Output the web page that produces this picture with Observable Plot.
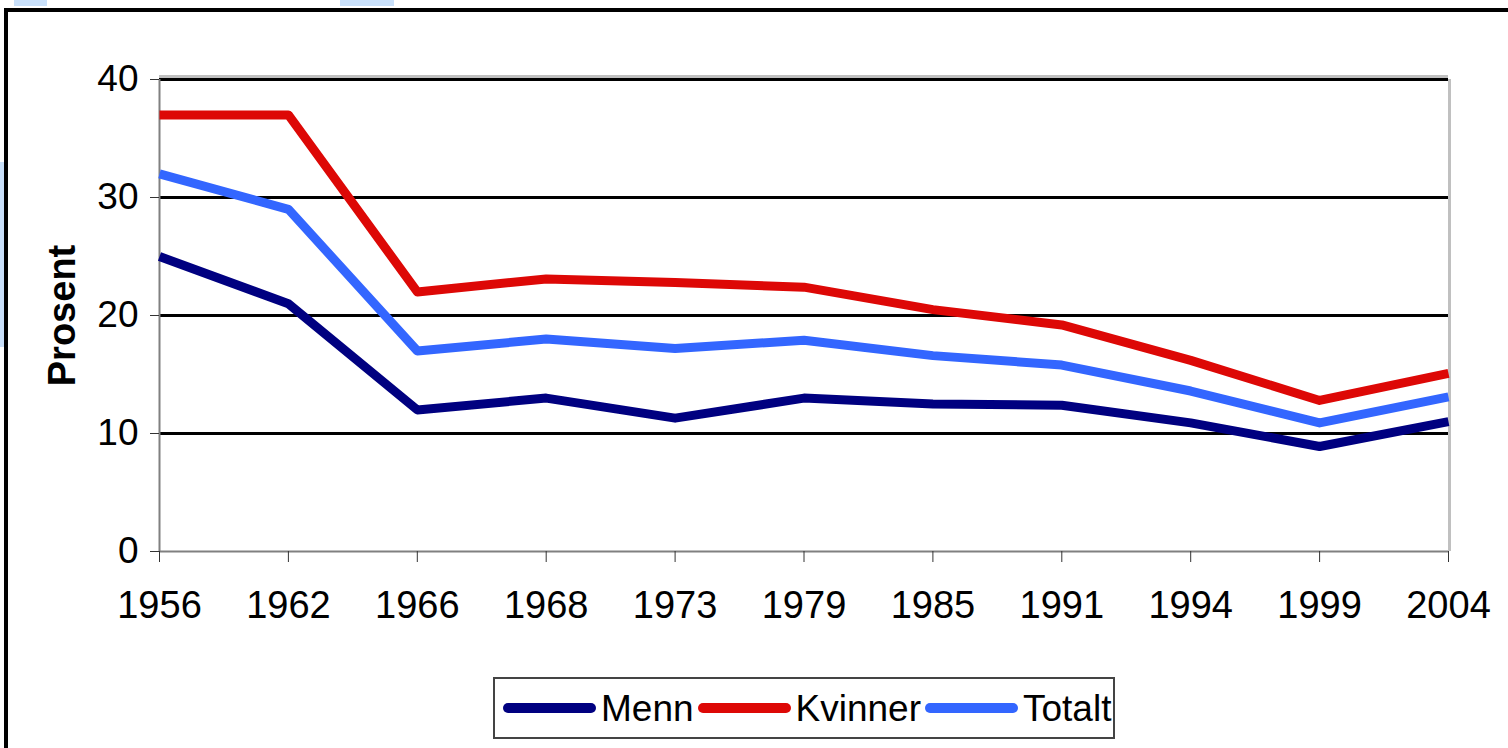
<!DOCTYPE html>
<html>
<head>
<meta charset="utf-8">
<script src="https://cdn.jsdelivr.net/npm/d3@7"></script>
<script src="https://cdn.jsdelivr.net/npm/@observablehq/plot@0.6"></script>
<style>
  html, body { margin: 0; padding: 0; background: #fff; width: 1508px; height: 748px; overflow: hidden; font-family: "Liberation Sans", Arial, sans-serif; }
  .bg { position: absolute; background: #c9e0fa; }
  #frame { position: absolute; left: 4px; top: 8px; width: 1600px; height: 900px; border-left: 4px solid #000; border-top: 4px solid #000; box-sizing: border-box; }
  #chart { position: absolute; left: 0; top: 0; }
  #legend { position: absolute; left: 493px; top: 677px; width: 622px; height: 62px; border: 2px solid #444; box-sizing: border-box; overflow: hidden; display: flex; align-items: center; padding-left: 8px; white-space: nowrap; background: #fff; }
  .sw { display: inline-block; width: 93px; height: 10px; border-radius: 5px; margin-right: 5px; flex: none; }
  .lt { font-size: 37px; color: #000; margin-right: 4px; line-height: 1; flex: none; }
</style>
</head>
<body>
<div class="bg" style="left:14px;top:0;width:33px;height:6px"></div>
<div class="bg" style="left:340px;top:0;width:54px;height:6px"></div>
<div class="bg" style="left:0;top:162px;width:4px;height:185px"></div>
<div id="frame"></div>
<div id="chart"></div>
<div id="legend"></div>
<script>
const years = ["1956","1962","1966","1968","1973","1979","1985","1991","1994","1999","2004"];
const menn    = [25, 21, 12, 13, 11.3, 13, 12.5, 12.4, 10.9, 8.9, 11];
const kvinner = [37, 37, 22, 23.1, 22.8, 22.4, 20.5, 19.2, 16.2, 12.8, 15.1];
const totalt  = [32, 29, 17, 18, 17.2, 17.9, 16.6, 15.8, 13.6, 10.9, 13.1];
const seriesNames = ["Menn", "Kvinner", "Totalt"];
const seriesColors = ["#000080", "#dd0806", "#3366ff"];
const yTicks = [0, 10, 20, 30, 40];
const gridTicks = [10, 20, 30, 40];
const yLabel = "Prosent";

const seriesValues = [menn, kvinner, totalt];
const data = [];
seriesNames.forEach((name, s) => {
  years.forEach((yr, i) => data.push({ year: yr, value: seriesValues[s][i], series: name }));
});

const W = 1508, H = 748;
const plot = Plot.plot({
  width: W,
  height: H,
  marginLeft: 159,
  marginRight: 60,
  marginTop: 79,
  marginBottom: 197,
  style: { fontFamily: "'Liberation Sans', Arial, sans-serif", background: "transparent", color: "#000" },
  x: { type: "point", domain: years, padding: 0, round: false },
  y: { domain: [0, 40] },
  color: { domain: seriesNames, range: seriesColors },
  marks: [
    Plot.ruleY([40], { stroke: "#c0c0c0", strokeWidth: 3, dy: -3 }),
    Plot.ruleX([years[years.length - 1]], { stroke: "#c0c0c0", strokeWidth: 3, dx: 1 }),
    Plot.ruleY(gridTicks, { stroke: "#000", strokeWidth: 3 }),
    Plot.ruleX([years[0]], { stroke: "#808080", strokeWidth: 2 }),
    Plot.ruleY([0], { stroke: "#808080", strokeWidth: 2 }),
    Plot.axisY({ ticks: yTicks, tickSize: 9, tickPadding: 12, fontSize: 37, stroke: "#333", label: null }),
    Plot.axisX({ tickSize: 11, tickPadding: 29, fontSize: 38, stroke: "#333", label: null }),
    Plot.lineY(data, { x: "year", y: "value", stroke: "series", z: "series", strokeWidth: 9, strokeLinejoin: "round", strokeLinecap: "butt" }),
    Plot.text([yLabel], { frameAnchor: "left", textAnchor: "middle", lineAnchor: "middle", dx: -97, rotate: -90, fontSize: 38, fontWeight: "bold", fill: "#000" })
  ]
});
document.getElementById("chart").appendChild(plot);

const legend = document.getElementById("legend");
seriesNames.forEach((name, i) => {
  const sw = document.createElement("span");
  sw.className = "sw";
  sw.style.background = seriesColors[i];
  const t = document.createElement("span");
  t.className = "lt";
  t.textContent = name;
  legend.appendChild(sw);
  legend.appendChild(t);
});
</script>
</body>
</html>
